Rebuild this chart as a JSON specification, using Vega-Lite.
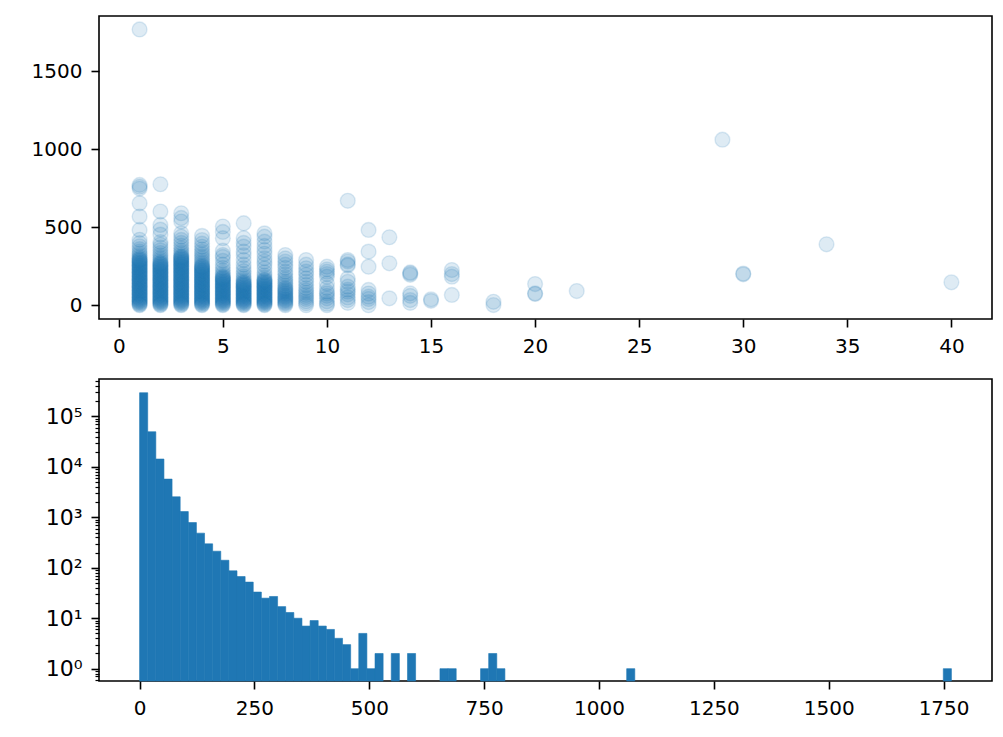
{
  "$schema": "https://vega.github.io/schema/vega-lite/v6.json",
  "padding": {"left": 30, "top": 15, "right": 10, "bottom": 10},
  "bounds": "flush",
  "spacing": 60,
  "config": {
    "font": "DejaVu Sans",
    "view": {"stroke": "#000", "strokeWidth": 1.6},
    "axis": {
      "domain": false, "grid": false, "title": null, "format": "d",
      "tickColor": "#000", "tickWidth": 1.6, "tickSize": 8,
      "labelPadding": 9, "labelFontSize": 20, "labelColor": "#000",
      "labelFont": "DejaVu Sans", "labelFlush": false, "labelOverlap": false
    }
  },
  "datasets": {
    "pts": [
      {"x":1,"y":0},{"x":1,"y":5},{"x":1,"y":10},{"x":1,"y":15},{"x":1,"y":20},{"x":1,"y":25},{"x":1,"y":30},{"x":1,"y":35},{"x":1,"y":40},{"x":1,"y":45},
      {"x":1,"y":50},{"x":1,"y":55},{"x":1,"y":60},{"x":1,"y":65},{"x":1,"y":70},{"x":1,"y":75},{"x":1,"y":80},{"x":1,"y":85},{"x":1,"y":90},{"x":1,"y":95},
      {"x":1,"y":100},{"x":1,"y":105},{"x":1,"y":110},{"x":1,"y":115},{"x":1,"y":120},{"x":1,"y":125},{"x":1,"y":130},{"x":1,"y":135},{"x":1,"y":140},{"x":1,"y":145},
      {"x":1,"y":150},{"x":1,"y":155},{"x":1,"y":160},{"x":1,"y":165},{"x":1,"y":170},{"x":1,"y":175},{"x":1,"y":180},{"x":1,"y":185},{"x":1,"y":190},{"x":1,"y":195},
      {"x":1,"y":200},{"x":1,"y":205},{"x":1,"y":210},{"x":1,"y":215},{"x":1,"y":220},{"x":1,"y":225},{"x":1,"y":230},{"x":1,"y":235},{"x":1,"y":240},{"x":1,"y":245},
      {"x":1,"y":250},{"x":1,"y":255},{"x":1,"y":260},{"x":1,"y":265},{"x":1,"y":270},{"x":1,"y":275},{"x":1,"y":280},{"x":1,"y":285},{"x":1,"y":290},{"x":1,"y":295},
      {"x":1,"y":300},{"x":1,"y":310},{"x":1,"y":320},{"x":1,"y":332},{"x":1,"y":345},{"x":1,"y":360},{"x":1,"y":378},{"x":1,"y":398},{"x":1,"y":420},{"x":1,"y":483},
      {"x":1,"y":569},{"x":1,"y":654},{"x":1,"y":748},{"x":1,"y":760},{"x":1,"y":772},{"x":1,"y":1769},
      {"x":2,"y":0},{"x":2,"y":5},{"x":2,"y":10},{"x":2,"y":15},{"x":2,"y":20},{"x":2,"y":25},{"x":2,"y":30},{"x":2,"y":35},{"x":2,"y":40},{"x":2,"y":45},
      {"x":2,"y":50},{"x":2,"y":55},{"x":2,"y":60},{"x":2,"y":65},{"x":2,"y":70},{"x":2,"y":75},{"x":2,"y":80},{"x":2,"y":85},{"x":2,"y":90},{"x":2,"y":95},
      {"x":2,"y":100},{"x":2,"y":105},{"x":2,"y":110},{"x":2,"y":115},{"x":2,"y":120},{"x":2,"y":125},{"x":2,"y":130},{"x":2,"y":135},{"x":2,"y":140},{"x":2,"y":145},
      {"x":2,"y":150},{"x":2,"y":155},{"x":2,"y":160},{"x":2,"y":165},{"x":2,"y":170},{"x":2,"y":175},{"x":2,"y":180},{"x":2,"y":185},{"x":2,"y":190},{"x":2,"y":195},
      {"x":2,"y":200},{"x":2,"y":205},{"x":2,"y":210},{"x":2,"y":215},{"x":2,"y":220},{"x":2,"y":225},{"x":2,"y":230},{"x":2,"y":235},{"x":2,"y":240},{"x":2,"y":245},
      {"x":2,"y":250},{"x":2,"y":255},{"x":2,"y":260},{"x":2,"y":265},{"x":2,"y":270},{"x":2,"y":275},{"x":2,"y":285},{"x":2,"y":295},{"x":2,"y":307},{"x":2,"y":320},
      {"x":2,"y":335},{"x":2,"y":352},{"x":2,"y":370},{"x":2,"y":388},{"x":2,"y":405},{"x":2,"y":453},{"x":2,"y":485},{"x":2,"y":515},{"x":2,"y":601},{"x":2,"y":776},
      {"x":3,"y":0},{"x":3,"y":5},{"x":3,"y":10},{"x":3,"y":15},{"x":3,"y":20},{"x":3,"y":25},{"x":3,"y":30},{"x":3,"y":35},{"x":3,"y":40},{"x":3,"y":45},
      {"x":3,"y":50},{"x":3,"y":55},{"x":3,"y":60},{"x":3,"y":65},{"x":3,"y":70},{"x":3,"y":75},{"x":3,"y":80},{"x":3,"y":85},{"x":3,"y":90},{"x":3,"y":95},
      {"x":3,"y":100},{"x":3,"y":105},{"x":3,"y":110},{"x":3,"y":115},{"x":3,"y":120},{"x":3,"y":125},{"x":3,"y":130},{"x":3,"y":135},{"x":3,"y":140},{"x":3,"y":145},
      {"x":3,"y":150},{"x":3,"y":155},{"x":3,"y":160},{"x":3,"y":165},{"x":3,"y":170},{"x":3,"y":175},{"x":3,"y":180},{"x":3,"y":185},{"x":3,"y":190},{"x":3,"y":195},
      {"x":3,"y":200},{"x":3,"y":205},{"x":3,"y":210},{"x":3,"y":215},{"x":3,"y":220},{"x":3,"y":225},{"x":3,"y":230},{"x":3,"y":235},{"x":3,"y":240},{"x":3,"y":245},
      {"x":3,"y":250},{"x":3,"y":255},{"x":3,"y":260},{"x":3,"y":265},{"x":3,"y":270},{"x":3,"y":275},{"x":3,"y":280},{"x":3,"y":285},{"x":3,"y":290},{"x":3,"y":295},
      {"x":3,"y":300},{"x":3,"y":305},{"x":3,"y":310},{"x":3,"y":315},{"x":3,"y":325},{"x":3,"y":337},{"x":3,"y":350},{"x":3,"y":365},{"x":3,"y":382},{"x":3,"y":400},
      {"x":3,"y":419},{"x":3,"y":440},{"x":3,"y":461},{"x":3,"y":537},{"x":3,"y":560},{"x":3,"y":590},
      {"x":4,"y":0},{"x":4,"y":5},{"x":4,"y":10},{"x":4,"y":15},{"x":4,"y":20},{"x":4,"y":25},{"x":4,"y":30},{"x":4,"y":35},{"x":4,"y":40},{"x":4,"y":45},
      {"x":4,"y":50},{"x":4,"y":55},{"x":4,"y":60},{"x":4,"y":65},{"x":4,"y":70},{"x":4,"y":75},{"x":4,"y":80},{"x":4,"y":85},{"x":4,"y":90},{"x":4,"y":95},
      {"x":4,"y":100},{"x":4,"y":105},{"x":4,"y":110},{"x":4,"y":115},{"x":4,"y":120},{"x":4,"y":125},{"x":4,"y":130},{"x":4,"y":135},{"x":4,"y":140},{"x":4,"y":145},
      {"x":4,"y":150},{"x":4,"y":155},{"x":4,"y":160},{"x":4,"y":165},{"x":4,"y":170},{"x":4,"y":175},{"x":4,"y":180},{"x":4,"y":185},{"x":4,"y":190},{"x":4,"y":195},
      {"x":4,"y":200},{"x":4,"y":205},{"x":4,"y":210},{"x":4,"y":215},{"x":4,"y":220},{"x":4,"y":225},{"x":4,"y":230},{"x":4,"y":235},{"x":4,"y":240},{"x":4,"y":245},
      {"x":4,"y":250},{"x":4,"y":255},{"x":4,"y":265},{"x":4,"y":275},{"x":4,"y":287},{"x":4,"y":300},{"x":4,"y":313},{"x":4,"y":327},{"x":4,"y":342},{"x":4,"y":358},
      {"x":4,"y":375},{"x":4,"y":395},{"x":4,"y":418},{"x":4,"y":445},
      {"x":5,"y":0},{"x":5,"y":5},{"x":5,"y":10},{"x":5,"y":15},{"x":5,"y":20},{"x":5,"y":25},{"x":5,"y":30},{"x":5,"y":35},{"x":5,"y":40},{"x":5,"y":45},
      {"x":5,"y":50},{"x":5,"y":55},{"x":5,"y":60},{"x":5,"y":65},{"x":5,"y":70},{"x":5,"y":75},{"x":5,"y":80},{"x":5,"y":85},{"x":5,"y":90},{"x":5,"y":95},
      {"x":5,"y":100},{"x":5,"y":105},{"x":5,"y":110},{"x":5,"y":115},{"x":5,"y":120},{"x":5,"y":125},{"x":5,"y":130},{"x":5,"y":135},{"x":5,"y":140},{"x":5,"y":145},
      {"x":5,"y":150},{"x":5,"y":155},{"x":5,"y":160},{"x":5,"y":165},{"x":5,"y":170},{"x":5,"y":175},{"x":5,"y":180},{"x":5,"y":185},{"x":5,"y":195},{"x":5,"y":207},
      {"x":5,"y":222},{"x":5,"y":240},{"x":5,"y":260},{"x":5,"y":285},{"x":5,"y":310},{"x":5,"y":322},{"x":5,"y":350},{"x":5,"y":430},{"x":5,"y":470},{"x":5,"y":505},
      {"x":6,"y":0},{"x":6,"y":5},{"x":6,"y":10},{"x":6,"y":15},{"x":6,"y":20},{"x":6,"y":25},{"x":6,"y":30},{"x":6,"y":35},{"x":6,"y":40},{"x":6,"y":45},
      {"x":6,"y":50},{"x":6,"y":55},{"x":6,"y":60},{"x":6,"y":65},{"x":6,"y":70},{"x":6,"y":75},{"x":6,"y":80},{"x":6,"y":85},{"x":6,"y":90},{"x":6,"y":95},
      {"x":6,"y":100},{"x":6,"y":105},{"x":6,"y":110},{"x":6,"y":115},{"x":6,"y":120},{"x":6,"y":125},{"x":6,"y":130},{"x":6,"y":135},{"x":6,"y":140},{"x":6,"y":145},
      {"x":6,"y":150},{"x":6,"y":160},{"x":6,"y":172},{"x":6,"y":185},{"x":6,"y":200},{"x":6,"y":218},{"x":6,"y":238},{"x":6,"y":260},{"x":6,"y":290},{"x":6,"y":320},
      {"x":6,"y":344},{"x":6,"y":376},{"x":6,"y":400},{"x":6,"y":430},{"x":6,"y":526},
      {"x":7,"y":0},{"x":7,"y":5},{"x":7,"y":10},{"x":7,"y":15},{"x":7,"y":20},{"x":7,"y":25},{"x":7,"y":30},{"x":7,"y":35},{"x":7,"y":40},{"x":7,"y":45},
      {"x":7,"y":50},{"x":7,"y":55},{"x":7,"y":60},{"x":7,"y":65},{"x":7,"y":70},{"x":7,"y":75},{"x":7,"y":80},{"x":7,"y":85},{"x":7,"y":90},{"x":7,"y":95},
      {"x":7,"y":100},{"x":7,"y":105},{"x":7,"y":110},{"x":7,"y":115},{"x":7,"y":120},{"x":7,"y":125},{"x":7,"y":130},{"x":7,"y":135},{"x":7,"y":140},{"x":7,"y":145},
      {"x":7,"y":150},{"x":7,"y":155},{"x":7,"y":160},{"x":7,"y":165},{"x":7,"y":178},{"x":7,"y":192},{"x":7,"y":210},{"x":7,"y":236},{"x":7,"y":260},{"x":7,"y":280},
      {"x":7,"y":301},{"x":7,"y":330},{"x":7,"y":355},{"x":7,"y":380},{"x":7,"y":408},{"x":7,"y":440},{"x":7,"y":461},
      {"x":8,"y":0},{"x":8,"y":7},{"x":8,"y":14},{"x":8,"y":21},{"x":8,"y":28},{"x":8,"y":35},{"x":8,"y":42},{"x":8,"y":49},{"x":8,"y":56},{"x":8,"y":63},
      {"x":8,"y":70},{"x":8,"y":77},{"x":8,"y":84},{"x":8,"y":91},{"x":8,"y":98},{"x":8,"y":105},{"x":8,"y":112},{"x":8,"y":125},{"x":8,"y":140},{"x":8,"y":151},
      {"x":8,"y":165},{"x":8,"y":180},{"x":8,"y":198},{"x":8,"y":215},{"x":8,"y":240},{"x":8,"y":260},{"x":8,"y":280},{"x":8,"y":300},{"x":8,"y":322},
      {"x":9,"y":0},{"x":9,"y":12},{"x":9,"y":25},{"x":9,"y":40},{"x":9,"y":52},{"x":9,"y":66},{"x":9,"y":80},{"x":9,"y":95},{"x":9,"y":110},{"x":9,"y":130},
      {"x":9,"y":150},{"x":9,"y":172},{"x":9,"y":195},{"x":9,"y":215},{"x":9,"y":237},{"x":9,"y":260},{"x":9,"y":290},
      {"x":10,"y":0},{"x":10,"y":10},{"x":10,"y":25},{"x":10,"y":44},{"x":10,"y":60},{"x":10,"y":75},{"x":10,"y":87},{"x":10,"y":110},{"x":10,"y":140},{"x":10,"y":183},
      {"x":10,"y":200},{"x":10,"y":215},{"x":10,"y":230},{"x":10,"y":247},
      {"x":11,"y":15},{"x":11,"y":33},{"x":11,"y":50},{"x":11,"y":70},{"x":11,"y":87},{"x":11,"y":100},{"x":11,"y":119},{"x":11,"y":150},{"x":11,"y":172},{"x":11,"y":255},
      {"x":11,"y":262},{"x":11,"y":280},{"x":11,"y":290},{"x":11,"y":670},
      {"x":12,"y":0},{"x":12,"y":20},{"x":12,"y":40},{"x":12,"y":55},{"x":12,"y":75},{"x":12,"y":98},{"x":12,"y":247},{"x":12,"y":344},{"x":12,"y":483},
      {"x":13,"y":44},{"x":13,"y":269},{"x":13,"y":436},
      {"x":14,"y":15},{"x":14,"y":33},{"x":14,"y":60},{"x":14,"y":76},{"x":14,"y":195},{"x":14,"y":204},{"x":14,"y":210},
      {"x":15,"y":28},{"x":15,"y":38},
      {"x":16,"y":66},{"x":16,"y":183},{"x":16,"y":200},{"x":16,"y":226},
      {"x":18,"y":1},{"x":18,"y":22},
      {"x":20,"y":72},{"x":20,"y":76},{"x":20,"y":136},
      {"x":22,"y":91},
      {"x":29,"y":1062},
      {"x":30,"y":198},{"x":30,"y":203},
      {"x":34,"y":391},
      {"x":40,"y":147}
    ],
    "hist": [
      {"b0":0,"b1":17.67,"n":295000},
      {"b0":17.67,"b1":35.34,"n":49700},
      {"b0":35.34,"b1":53.01,"n":14300},
      {"b0":53.01,"b1":70.68,"n":5720},
      {"b0":70.68,"b1":88.35,"n":2550},
      {"b0":88.35,"b1":106.02,"n":1300},
      {"b0":106.02,"b1":123.69,"n":788},
      {"b0":123.69,"b1":141.36,"n":486},
      {"b0":141.36,"b1":159.03,"n":298},
      {"b0":159.03,"b1":176.7,"n":213},
      {"b0":176.7,"b1":194.37,"n":141},
      {"b0":194.37,"b1":212.04,"n":87},
      {"b0":212.04,"b1":229.71,"n":67},
      {"b0":229.71,"b1":247.38,"n":52},
      {"b0":247.38,"b1":265.05,"n":33},
      {"b0":265.05,"b1":282.72,"n":25},
      {"b0":282.72,"b1":300.39,"n":27},
      {"b0":300.39,"b1":318.06,"n":17},
      {"b0":318.06,"b1":335.73,"n":13},
      {"b0":335.73,"b1":353.4,"n":10},
      {"b0":353.4,"b1":371.07,"n":7},
      {"b0":371.07,"b1":388.74,"n":9},
      {"b0":388.74,"b1":406.41,"n":7},
      {"b0":406.41,"b1":424.08,"n":6},
      {"b0":424.08,"b1":441.75,"n":4},
      {"b0":441.75,"b1":459.42,"n":3},
      {"b0":459.42,"b1":477.09,"n":1},
      {"b0":477.09,"b1":494.76,"n":5},
      {"b0":494.76,"b1":512.43,"n":1},
      {"b0":512.43,"b1":530.1,"n":2},
      {"b0":547.77,"b1":565.44,"n":2},
      {"b0":583.11,"b1":600.78,"n":2},
      {"b0":653.79,"b1":671.46,"n":1},
      {"b0":671.46,"b1":689.13,"n":1},
      {"b0":742.14,"b1":759.81,"n":1},
      {"b0":759.81,"b1":777.48,"n":2},
      {"b0":777.48,"b1":795.15,"n":1},
      {"b0":1060.2,"b1":1077.87,"n":1},
      {"b0":1749.33,"b1":1767,"n":1}
    ]
  },
  "vconcat": [
    {
      "width": 893, "height": 303,
      "data": {"name": "pts"},
      "mark": {"type": "circle", "size": 220, "color": "#1f77b4", "fillOpacity": 0.15,
               "stroke": "#1f77b4", "strokeWidth": 1.4, "strokeOpacity": 0.15},
      "encoding": {
        "x": {"field": "x", "type": "quantitative",
              "scale": {"domain": [-0.95, 41.95], "nice": false, "zero": false},
              "axis": {"values": [0, 5, 10, 15, 20, 25, 30, 35, 40]}},
        "y": {"field": "y", "type": "quantitative",
              "scale": {"domain": [-88.4, 1855.4], "nice": false, "zero": false},
              "axis": {"values": [0, 500, 1000, 1500]}}
      }
    },
    {
      "width": 893, "height": 302,
      "data": {"name": "hist"},
      "mark": {"type": "bar", "color": "#1f77b4", "stroke": "#1f77b4", "strokeWidth": 0.6},
      "encoding": {
        "x": {"field": "b0", "type": "quantitative",
              "scale": {"domain": [-88.35, 1855.35], "nice": false, "zero": false},
              "axis": {"values": [0, 250, 500, 750, 1000, 1250, 1500, 1750]}},
        "x2": {"field": "b1"},
        "y": {"field": "n", "type": "quantitative",
              "scale": {"type": "log", "domain": [0.57, 552000], "nice": false},
              "axis": {
                "values": [0.6, 0.7, 0.8, 0.9, 1, 2, 3, 4, 5, 6, 7, 8, 9, 10, 20, 30, 40, 50, 60, 70, 80, 90,
                           100, 200, 300, 400, 500, 600, 700, 800, 900, 1000, 2000, 3000, 4000, 5000, 6000, 7000, 8000, 9000,
                           10000, 20000, 30000, 40000, 50000, 60000, 70000, 80000, 90000, 100000, 200000, 300000, 400000, 500000],
                "labelExpr": "datum.value == 1 ? '10⁰' : datum.value == 10 ? '10¹' : datum.value == 100 ? '10²' : datum.value == 1000 ? '10³' : datum.value == 10000 ? '10⁴' : datum.value == 100000 ? '10⁵' : ''",
                "labelFontSize": 22,
                "tickSize": {"condition": {"test": "indexof([1, 10, 100, 1000, 10000, 100000], datum.value) >= 0", "value": 8}, "value": 4},
                "tickWidth": {"condition": {"test": "indexof([1, 10, 100, 1000, 10000, 100000], datum.value) >= 0", "value": 1.6}, "value": 1.2}
              }},
        "y2": {"datum": 0.57}
      }
    }
  ]
}
